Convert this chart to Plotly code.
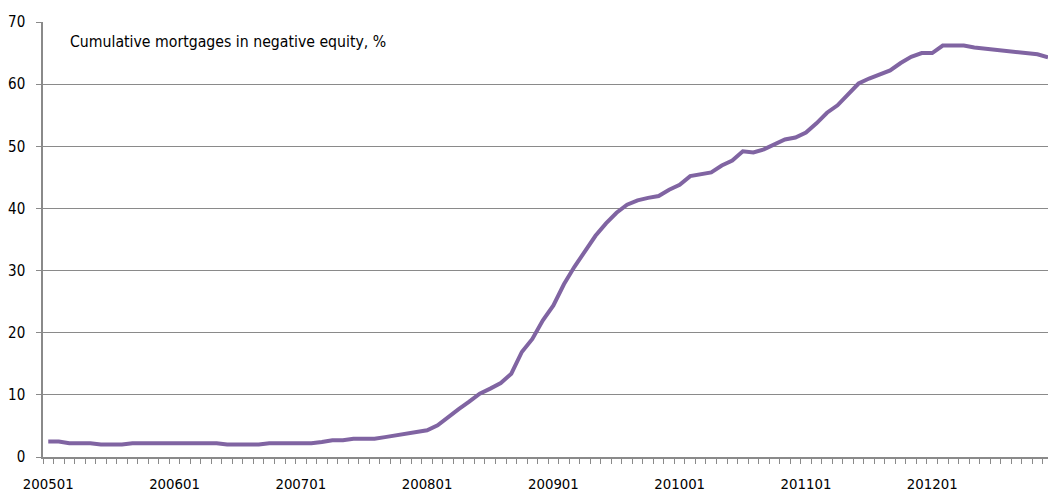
import plotly.graph_objects as go

# Monthly categories 200501 .. 201212
months = [f"{y}{m:02d}" for y in range(2005, 2013) for m in range(1, 13)]

# Cumulative mortgages in negative equity, %
negative_equity = [
    2.5, 2.5, 2.2, 2.2, 2.2, 2.0, 2.0, 2.0, 2.2, 2.2, 2.2, 2.2,      # 2005
    2.2, 2.2, 2.2, 2.2, 2.2, 2.0, 2.0, 2.0, 2.0, 2.2, 2.2, 2.2,      # 2006
    2.2, 2.2, 2.4, 2.7, 2.7, 2.95, 2.95, 2.95, 3.2, 3.45, 3.7, 3.95, # 2007
    4.3, 5.1, 6.5, 7.7, 8.9, 10.2, 11.0, 11.9, 13.4, 16.9, 19.0, 22.0,  # 2008
    24.4, 27.8, 30.6, 33.1, 35.6, 37.6, 39.3, 40.6, 41.3, 41.7, 42.0, 43.0,  # 2009
    43.8, 45.2, 45.5, 45.8, 46.9, 47.7, 49.2, 49.0, 49.5, 50.3, 51.1, 51.4,  # 2010
    52.2, 53.7, 55.4, 56.6, 58.3, 60.1, 60.9, 61.5, 62.2, 63.4, 64.4, 65.0,  # 2011
    65.0, 66.2, 66.2, 66.2, 65.9, 65.7, 65.5, 65.4, 65.2, 65.0, 64.8, 64.3,  # 2012
]

label_every = 12
title_text = "Cumulative mortgages in negative equity, %"
y_ticks = [0, 10, 20, 30, 40, 50, 60, 70]

idx = list(range(len(months)))
GRID = "#8a8a8a"
FONT = "DejaVu Sans Condensed, Liberation Sans, Arial, sans-serif"

fig = go.Figure()
fig.add_trace(go.Scatter(
    x=idx, y=negative_equity, mode="lines",
    line=dict(color="#8064A2", width=4),
    hoverinfo="skip", showlegend=False,
))

fig.update_layout(
    width=1048, height=492,
    margin=dict(l=43, r=0, t=22, b=35, autoexpand=False),
    paper_bgcolor="white", plot_bgcolor="white",
    font=dict(family=FONT, color="#000000"),
    showlegend=False,
)

fig.update_xaxes(
    automargin=False,
    range=[-0.5, len(months) - 1],
    tickmode="array",
    tickvals=idx[::label_every],
    ticktext=months[::label_every],
    ticks="",
    ticklabelstandoff=12,
    tickfont=dict(family=FONT, size=14.8, color="#000000"),
    showgrid=False, zeroline=False,
    showline=True, linecolor=GRID, linewidth=1.5,
    minor=dict(
        tickmode="array",
        tickvals=[i - 0.5 for i in idx] + [len(months) - 0.5],
        ticks="outside", ticklen=5, tickwidth=1.3, tickcolor=GRID,
        showgrid=False,
    ),
)

fig.update_yaxes(
    automargin=False,
    range=[0, 70],
    tickmode="array", tickvals=y_ticks,
    ticks="outside", ticklen=5, tickwidth=1.3, tickcolor=GRID,
    ticklabelstandoff=8,
    tickfont=dict(family=FONT, size=15, color="#000000"),
    showgrid=True, gridcolor=GRID, gridwidth=1.4,
    zeroline=False,
    showline=True, linecolor=GRID, linewidth=1.5,
)

fig.add_annotation(
    text=title_text, xref="paper", yref="y",
    x=0.0245, y=66.9, xanchor="left", yanchor="middle",
    showarrow=False,
    font=dict(family=FONT, size=15.7, color="#000000"),
)

fig.write_html(
    "out.html",
    config={"displayModeBar": False},
    post_script="document.body.style.margin='0';document.body.style.overflow='hidden';",
)
